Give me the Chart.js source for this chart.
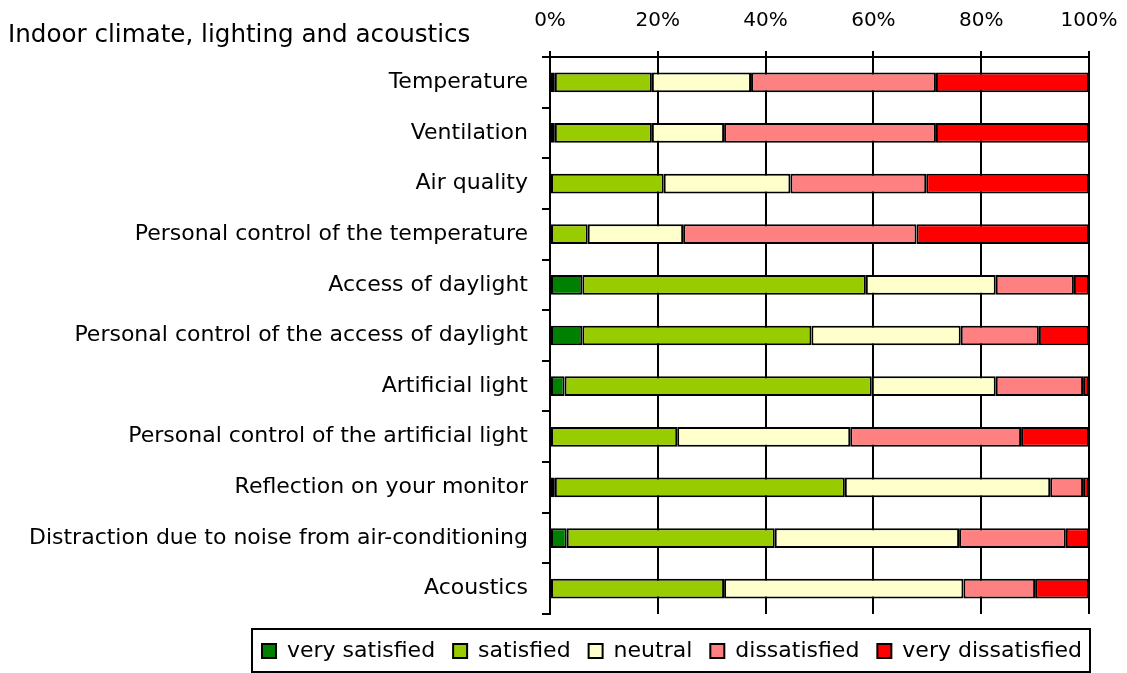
<!DOCTYPE html>
<html>
<head>
<meta charset="utf-8">
<script src="https://cdn.jsdelivr.net/npm/chart.js@4"></script>
<style>
  html, body { margin: 0; padding: 0; background: #fff; }
  #wrap { width: 1127px; height: 673px; }
</style>
</head>
<body>
<div id="wrap"><canvas id="survey" width="1127" height="673"></canvas></div>
<script>
const title = 'Indoor climate, lighting and acoustics';
const categories = [
  'Temperature',
  'Ventilation',
  'Air quality',
  'Personal control of the temperature',
  'Access of daylight',
  'Personal control of the access of daylight',
  'Artificial light',
  'Personal control of the artificial light',
  'Reflection on your monitor',
  'Distraction due to noise from air-conditioning',
  'Acoustics'
];
const seriesNames = ['very satisfied', 'satisfied', 'neutral', 'dissatisfied', 'very dissatisfied'];
const verySatisfied = [0.9, 0.9, 0, 0, 6.0, 6.0, 2.7, 0, 0.9, 3.1, 0];
const satisfied = [18.0, 18.0, 21.1, 7.0, 52.6, 42.5, 57.0, 23.6, 53.8, 38.6, 32.3];
const neutral = [18.4, 13.4, 23.5, 17.7, 24.1, 27.7, 23.0, 32.1, 38.1, 34.2, 44.4];
const dissatisfied = [34.3, 39.3, 25.2, 43.3, 14.5, 14.5, 16.2, 31.7, 6.1, 19.8, 13.3];
const veryDissatisfied = [28.4, 28.4, 30.2, 32.0, 2.8, 9.3, 1.1, 12.6, 1.1, 4.3, 10.0];
const colors = ['#008000', '#99CC00', '#FFFFCC', '#FF8080', '#FF0000'];

const FONT = 'DejaVu Sans';
const series = [verySatisfied, satisfied, neutral, dissatisfied, veryDissatisfied];
const LEGEND_SHIFT = 8;

// title on the left, legend nudged down and framed
const extras = {
  id: 'extras',
  afterLayout(chart) {
    const lg = chart.legend;
    lg.top += LEGEND_SHIFT;
    lg.bottom += LEGEND_SHIFT;
    (lg.legendHitBoxes || []).forEach(b => { b.top += LEGEND_SHIFT; });
  },
  afterDraw(chart) {
    const ctx = chart.ctx;
    ctx.save();
    ctx.fillStyle = '#000';
    ctx.font = '24.6px "' + FONT + '"';
    ctx.textBaseline = 'alphabetic';
    ctx.textAlign = 'left';
    ctx.fillText(title, 8, 42);
    const lg = chart.legend;
    const boxes = lg.legendHitBoxes;
    if (boxes && boxes.length) {
      const first = boxes[0], last = boxes[boxes.length - 1];
      const x0 = first.left - 10, x1 = last.left + last.width + 8;
      const y0 = lg.top + 7, y1 = lg.top + 50;
      ctx.strokeStyle = '#000';
      ctx.lineWidth = 2;
      ctx.strokeRect(x0, y0, x1 - x0, y1 - y0);
    }
    ctx.restore();
  }
};

new Chart(document.getElementById('survey'), {
  type: 'bar',
  data: {
    labels: categories,
    datasets: series.map((vals, i) => ({
      label: seriesNames[i],
      data: vals,
      backgroundColor: colors[i],
      borderColor: '#000',
      borderWidth: 2,
      borderSkipped: false,
      barPercentage: 0.39,
      categoryPercentage: 1
    }))
  },
  options: {
    indexAxis: 'y',
    responsive: false,
    animation: false,
    layout: { padding: { left: 10, right: 27, top: 0, bottom: 9 } },
    scales: {
      x: {
        position: 'top',
        stacked: true,
        min: 0,
        max: 100,
        ticks: {
          stepSize: 20,
          color: '#000',
          padding: 18,
          maxRotation: 0,
          font: { family: FONT, size: 20 },
          callback: v => v + '%'
        },
        grid: { color: '#000', lineWidth: 2, tickLength: 6 },
        border: { display: true, color: '#000', width: 2 },
        afterFit: s => { s.height = 57; s.paddingRight = 38; }
      },
      y: {
        stacked: true,
        ticks: {
          color: '#000',
          padding: 14,
          font: { family: FONT, size: 22 }
        },
        grid: { drawOnChartArea: false, color: '#000', lineWidth: 2, tickLength: 8 },
        border: { display: true, color: '#000', width: 2 },
        afterFit: s => { s.width = 550 - 10; }
      }
    },
    plugins: {
      legend: {
        position: 'bottom',
        align: 'end',
        labels: {
          color: '#000',
          boxWidth: 14,
          boxHeight: 14,
          padding: 18,
          font: { family: FONT, size: 22 }
        }
      },
      tooltip: { enabled: false }
    }
  },
  plugins: [extras]
});
</script>
</body>
</html>
